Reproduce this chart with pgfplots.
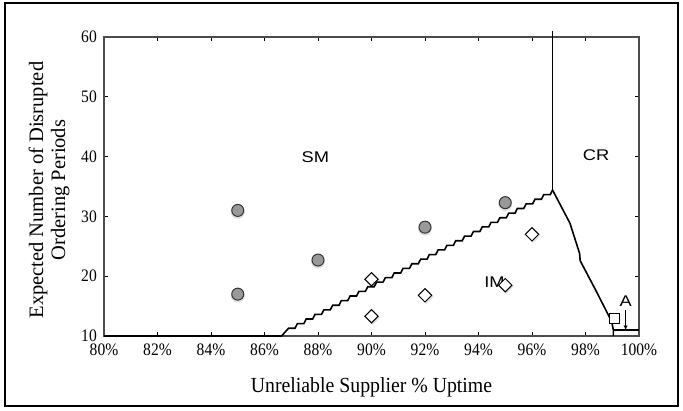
\documentclass[border=0pt]{standalone}
\usepackage{fontspec}
\setmainfont{Liberation Serif}
\newfontfamily\tickfont[FakeStretch=0.89]{Liberation Serif}
\newfontfamily\xlabfont[FakeStretch=0.92]{Liberation Serif}
\newfontfamily\regionfont[FakeStretch=1.18]{Liberation Sans}
\usepackage{pgfplots}
\pgfplotsset{compat=1.18}
\usetikzlibrary{arrows.meta}

\begin{document}
\begin{tikzpicture}
% page frame
\path (0pt,0pt) rectangle (683pt,410pt);
\draw[line width=2.2pt] (5pt,4pt) rectangle (678pt,407pt);
\begin{axis}[
  at={(104pt,74pt)}, anchor=south west,
  scale only axis, width=535pt, height=299pt,
  xmin=80, xmax=100, ymin=10, ymax=60,
  xtick={80,82,...,100}, ytick={10,20,...,60},
  xticklabel={\pgfmathprintnumber{\tick}\%},
  /pgf/number format/assume math mode=true,
  tick align=inside, major tick length=4pt,
  tick style={black, line width=0.9pt},
  axis line style={black!70, line width=1.4pt},
  ticklabel style={font=\tickfont\fontsize{17.5}{18}\selectfont, inner sep=0pt},
  xticklabel style={yshift=-8pt},
  yticklabel style={xshift=-7pt},
  xlabel={Unreliable Supplier \% Uptime},
  ylabel={Expected Number of Disrupted\\Ordering Periods},
  xlabel style={font=\xlabfont\fontsize{21.5}{22}\selectfont,
    at={(axis description cs:0.5,-0.1906)}, anchor=base},
  ylabel style={font=\fontsize{20.5}{22}\selectfont, align=center,
    at={(axis description cs:-0.1028,0.488)}, anchor=center},
  clip=false,
]
% boundary between SM and IM (stepped)
\addplot[black, line width=1.6pt] coordinates {
 (80,10) (86.64,10) (86.90,11.30) (87.14,11.30)
 (87.23,12.07) (87.47,12.07) (87.56,12.84) (87.80,12.84)
 (87.89,13.61) (88.13,13.61) (88.22,14.38) (88.46,14.38)
 (88.55,15.15) (88.79,15.15) (88.87,15.92) (89.11,15.92)
 (89.20,16.69) (89.44,16.69) (89.53,17.46) (89.77,17.46)
 (89.86,18.23) (90.10,18.23) (90.19,19.00) (90.43,19.00)
 (90.52,19.77) (90.76,19.77) (90.85,20.54) (91.09,20.54)
 (91.18,21.31) (91.42,21.31) (91.51,22.08) (91.75,22.08)
 (91.84,22.85) (92.08,22.85) (92.16,23.62) (92.40,23.62)
 (92.49,24.39) (92.73,24.39) (92.82,25.16) (93.06,25.16)
 (93.15,25.93) (93.39,25.93) (93.48,26.70) (93.72,26.70)
 (93.81,27.47) (94.05,27.47) (94.14,28.24) (94.38,28.24)
 (94.47,29.01) (94.71,29.01) (94.80,29.78) (95.04,29.78)
 (95.13,30.55) (95.37,30.55) (95.45,31.32) (95.69,31.32)
 (95.78,32.09) (96.02,32.09) (96.11,32.86) (96.35,32.86)
 (96.44,33.63) (96.68,33.63) (96.77,34.40)
};
% boundary between SM and CR
\addplot[black, line width=1.6pt] coordinates {(96.77,34.40) (96.77,61)};
% boundary between IM and CR / A
\addplot[black, line width=1.6pt] coordinates {
 (96.77,34.40) (97.42,28.85) (97.78,23.8) (97.80,22.6)
 (98.40,17.5) (98.98,12.4) (99.04,11) (99.04,10)
};
\addplot[black, line width=1.6pt] coordinates {(99.04,11) (100,11)};

% soft shadows under the markers
\addplot[only marks, mark=*, mark size=7pt, black, opacity=0.12,
  mark options={yshift=-1.5pt, draw opacity=0}] coordinates {
 (85,31) (85,17) (88,22.7) (92,28.2) (95,32.3)};
\addplot[only marks, mark=square*, mark size=5.4pt, black, opacity=0.12,
  mark options={rotate=45, yshift=-1.5pt, draw opacity=0}] coordinates {
 (90,19.5) (90,13.3) (92,16.8) (95,18.5) (96,27)};

% SM instances
\addplot[only marks, mark=*, mark size=6pt,
  mark options={draw=black!80, fill=black!40, line width=1pt}] coordinates {
 (85,31) (85,17) (88,22.7) (92,28.2) (95,32.3)};
% IM instances
\addplot[only marks, mark=square*, mark size=4.7pt,
  mark options={rotate=45, draw=black, fill=white, line width=1pt}] coordinates {
 (90,19.5) (90,13.3) (92,16.8) (95,18.5) (96,27)};
% A instance
\addplot[only marks, mark=square*, mark size=5pt,
  mark options={draw=black, fill=white, line width=1pt}] coordinates {
 (99.1,13.0)};

% region names
\node[font=\regionfont\fontsize{15.5}{16}\selectfont] at (axis cs:87.9,39.9) {SM};
\node[font=\regionfont\fontsize{15.5}{16}\selectfont] at (axis cs:98.4,40.3) {CR};
\node[font=\regionfont\fontsize{15.5}{16}\selectfont] at (axis cs:94.6,19.0) {IM};
\node[font=\regionfont\fontsize{15.5}{16}\selectfont] at (axis cs:99.5,15.8) {A};
\draw[line width=1pt, -{Latex[length=4.5pt,width=4.5pt]}] (axis cs:99.5,14.4) -- (axis cs:99.5,11);
\end{axis}
\end{tikzpicture}
\end{document}
